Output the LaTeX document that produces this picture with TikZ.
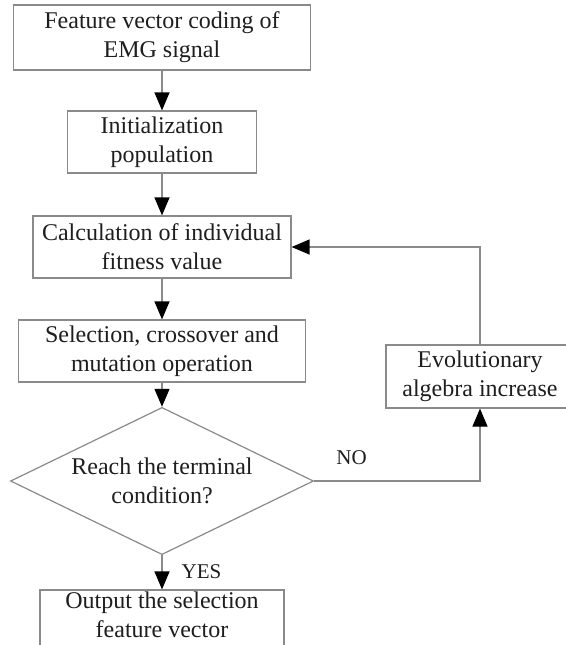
\documentclass[tikz,border=0pt]{standalone}
\usepackage{fontspec}
\setmainfont{Liberation Serif}
\usetikzlibrary{arrows.meta,positioning,shapes.geometric}
\definecolor{edge}{HTML}{8A8A8A}
\definecolor{ink}{HTML}{1E1E1E}

\begin{document}
\begin{tikzpicture}[
    x=0.5pt,y=-0.5pt,
    box/.style={draw=edge,line width=0.6pt,fill=white,minimum height=31pt,align=center,inner sep=0pt,text=ink,font=\fontsize{12}{14.5}\selectfont},
    decision/.style={box,diamond,minimum width=151.5pt,minimum height=55.5pt,inner xsep=-20pt},
    arr/.style={-{Triangle[length=9pt,width=7.5pt,color=black]},draw=edge,line width=0.6pt},
    tag/.style={font=\fontsize{10.5}{12}\selectfont,text=ink,inner sep=0pt}
]
\clip (0,0) rectangle (566,645);
\node[box,minimum width=148.5pt,minimum height=32.5pt] (coding) at (162,37.5) {Feature vector coding of\\EMG signal};
\node[box,minimum width=94.5pt] (init) at (162,142) {Initialization\\population};
\node[box,minimum width=129pt] (fitness) at (162,247) {Calculation of individual\\fitness value};
\node[box,minimum width=143.5pt] (select) at (162,351) {Selection, crossover and\\mutation operation};
\node[decision] (reach) at (162,481) {Reach the terminal\\condition?};
\node[box,minimum width=122pt,minimum height=32.5pt,text depth=8pt] (output) at (162,622.5) {Output the selection\\feature vector};
\node[box,minimum width=94pt,minimum height=31.5pt] (evolve) at (480,376.5) {Evolutionary\\algebra increase};

\draw[arr] (coding) -- (init);
\draw[arr] (init) -- (fitness);
\draw[arr] (fitness) -- (select);
\draw[arr] (select) -- (reach);
\draw[arr] (reach) -- node[tag,right=9.5pt,pos=0.47] {YES} (output);
\draw[arr] (reach.east) -| node[tag,above=8pt,pos=0.113] {NO} (evolve.south);
\draw[arr] (evolve.north) |- (fitness.east);
\end{tikzpicture}
\end{document}
